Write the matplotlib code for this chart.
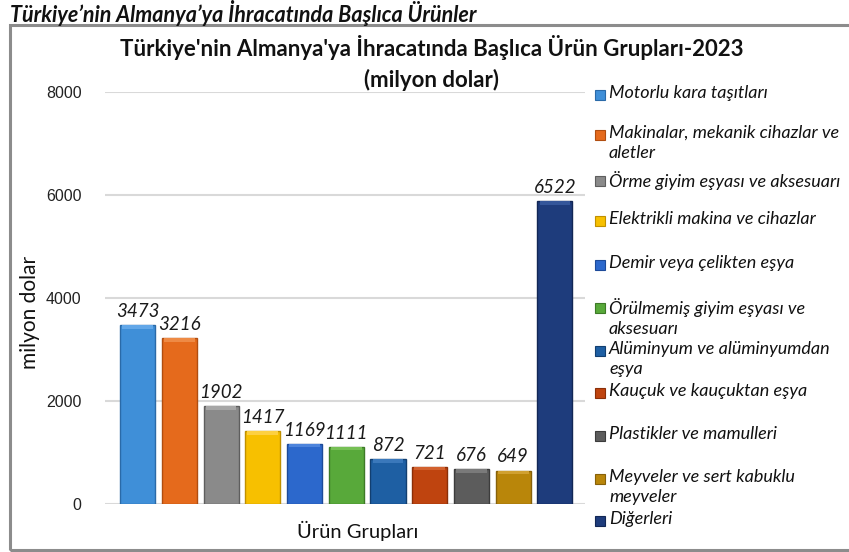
import matplotlib

matplotlib.use("Agg")
import matplotlib.pyplot as plt
from matplotlib.patches import Rectangle

# Values
categories = [
    "Motorlu kara taşıtları",
    "Makinalar, mekanik cihazlar ve\naletler",
    "Örme giyim eşyası ve aksesuarı",
    "Elektrikli makina ve cihazlar",
    "Demir veya çelikten eşya",
    "Örülmemiş giyim eşyası ve\naksesuarı",
    "Alüminyum ve alüminyumdan\neşya",
    "Kauçuk ve kauçuktan eşya",
    "Plastikler ve mamulleri",
    "Meyveler ve sert kabuklu\nmeyveler",
    "Diğerleri",
]
values = [3473, 3216, 1902, 1417, 1169, 1111, 872, 721, 676, 649, 6522]
# the source draws the last bar shorter than its label says
bar_heights = [3473, 3216, 1902, 1417, 1169, 1111, 872, 721, 676, 649, 5880]
yticks = [0, 2000, 4000, 6000, 8000]

colors = [
    "#3f8fd8", "#e56a1c", "#8a8a8a", "#f7c000", "#2c68cc", "#58a93a",
    "#1e5fa3", "#bf440f", "#5c5c5c", "#b9860a", "#1e3c7c",
]
edges = [
    "#2a6aa8", "#b04d10", "#5e5e5e", "#c09000", "#1d4a99", "#3d7a27",
    "#123f70", "#8a2f08", "#3c3c3c", "#87610a", "#122755",
]
tops = [
    "#62a7e8", "#ee8a45", "#a6a6a6", "#fdd040", "#4d84dc", "#76c055",
    "#3a78bb", "#d2612e", "#7a7a7a", "#d0a030", "#34569a",
]

W, H = 849, 552
fig = plt.figure(figsize=(W / 100, H / 100), dpi=100)

calibri = ["Lato", "DejaVu Sans"]

# outer frame
fig.patches.append(
    Rectangle((10 / W, 2 / H), 1.0, (H - 25 - 2) / H, transform=fig.transFigure,
              fill=False, edgecolor="#8c8c8c", lw=2.2, zorder=0)
)

fig.text(10 / W, 1 - 13 / H, "Türkiye’nin Almanya’ya İhracatında Başlıca Ürünler",
         family=calibri, fontsize=15.5, fontweight="bold", fontstyle="italic",
         ha="left", va="center", color="#111111")

fig.text(432 / W, 1 - 47 / H,
         "Türkiye'nin Almanya'ya İhracatında Başlıca Ürün Grupları-2023",
         family=calibri, fontsize=16, fontweight="bold", ha="center", va="center",
         color="#111111")
fig.text(432 / W, 1 - 80 / H, "(milyon dolar)", family=calibri, fontsize=16,
         fontweight="bold", ha="center", va="center", color="#111111")

ax = fig.add_axes([105 / W, 1 - 504 / H, (585 - 105) / W, (504 - 92) / H])
x = list(range(len(values)))
width = 0.84

ax.bar(x, bar_heights, width=width, color=colors, edgecolor=edges, lw=1.0, zorder=3)
bevel = 70
ax.bar(x, [bevel] * len(x), bottom=[h - bevel for h in bar_heights], width=width * 0.88,
       color=tops, lw=0, zorder=4)

for xi, h, v in zip(x, bar_heights, values):
    ax.text(xi, h + 100, f"{v}", ha="center", va="bottom", family=calibri,
            fontstyle="italic", fontsize=13.5, color="#1a1a1a", zorder=5)

ax.set_ylim(0, 8000)
ax.set_xlim(-0.78, 10.72)
ax.set_yticks(yticks)
ax.set_yticklabels([str(t) for t in yticks], family="Liberation Sans", fontsize=11.5)
ax.set_xticks([])
ax.tick_params(axis="y", length=0, pad=17, labelcolor="#222222")
ax.grid(axis="y", color="#d9d9d9", lw=1.5, zorder=0)
for s in ax.spines.values():
    s.set_visible(False)

fig.text(30 / W, 1 - 312 / H, "milyon dolar", rotation=90, family=calibri,
         fontsize=15, ha="center", va="center", color="#111111")
fig.text(358 / W, 1 - 531 / H, "Ürün Grupları", family=calibri, fontsize=14.5,
         ha="center", va="center", color="#111111")

# legend, placed by hand like the source
legend_y = [95, 135, 181, 221, 265, 308, 351, 393, 436, 479, 521]
for label, c, e, y in zip(categories, colors, edges, legend_y):
    fig.patches.append(
        Rectangle((595 / W, 1 - (y + 5) / H), 10 / W, 10 / H, transform=fig.transFigure,
                  facecolor=c, edgecolor=e, lw=0.8)
    )
    fig.text(609 / W, 1 - (y - 10) / H, label, family=calibri, fontstyle="italic",
             fontsize=13, ha="left", va="top", color="#111111", linespacing=1.3)

fig.savefig("out.png", dpi=100)
